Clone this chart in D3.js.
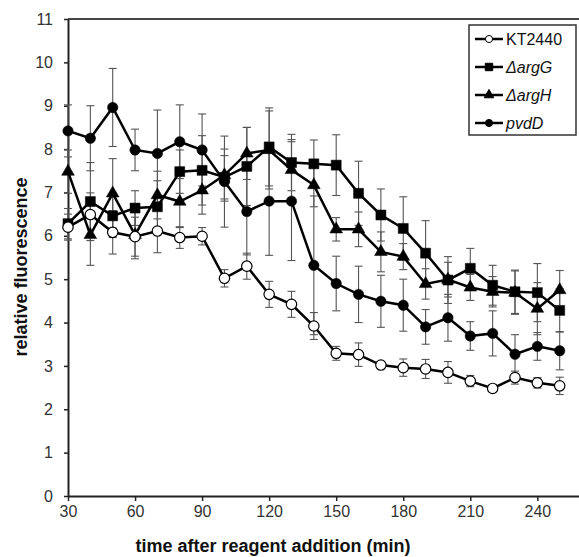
<!DOCTYPE html>
<html>
<head>
<meta charset="utf-8">
<script src="https://cdn.jsdelivr.net/npm/d3@7"></script>
<style>
  body { margin: 0; background: #fff; }
  svg { display: block; font-family: Arial, "Liberation Sans", sans-serif; }
</style>
</head>
<body>
<div id="chart"></div>
<script>
// time points (min)
const times = [30, 40, 50, 60, 70, 80, 90, 100, 110, 120, 130, 140, 150, 160, 170, 180, 190, 200, 210, 220, 230, 240, 250];

const kt2440 = [6.2, 6.49, 6.08, 5.98, 6.11, 5.96, 5.99, 5.02, 5.3, 4.65, 4.42, 3.92, 3.29, 3.26, 3.02, 2.96, 2.93, 2.85, 2.65, 2.48, 2.73, 2.61, 2.54];
const kt2440Err = [0.3, 0.5, 0.5, 0.45, 0.5, 0.25, 0.2, 0.2, 0.3, 0.3, 0.3, 0.31, 0.16, 0.27, 0.08, 0.2, 0.22, 0.25, 0.13, 0.05, 0.15, 0.12, 0.2];

const argG = [6.28, 6.79, 6.46, 6.64, 6.67, 7.48, 7.51, 7.35, 7.6, 8.05, 7.69, 7.66, 7.63, 6.98, 6.48, 6.17, 5.6, 4.98, 5.25, 4.86, 4.71, 4.69, 4.28];
const argGErr = [0.35, 0.9, 0.5, 0.4, 0.6, 0.5, 0.8, 0.5, 0.9, 0.9, 0.65, 0.55, 0.7, 0.74, 0.6, 0.73, 0.75, 0.54, 0.46, 0.46, 0.5, 0.67, 0.5];

const argH = [7.48, 6.02, 6.98, 6.02, 6.94, 6.79, 7.05, 7.4, 7.9, 7.98, 7.52, 7.17, 6.15, 6.15, 5.63, 5.52, 4.89, 4.99, 4.81, 4.71, 4.69, 4.32, 4.75];
const argHErr = [0.5, 0.7, 0.8, 0.55, 0.55, 0.6, 0.55, 0.6, 0.6, 0.9, 0.7, 0.5, 0.27, 0.4, 0.46, 0.3, 0.35, 0.4, 0.3, 0.35, 0.5, 0.6, 0.45];

const pvdD = [8.42, 8.25, 8.96, 7.98, 7.9, 8.17, 7.98, 7.25, 6.56, 6.8, 6.8, 5.32, 4.9, 4.65, 4.49, 4.4, 3.9, 4.11, 3.69, 3.75, 3.27, 3.45, 3.35];
const pvdDErr = [0.6, 0.75, 0.9, 0.48, 1.0, 0.85, 0.83, 1.05, 1.0, 1.25, 1.37, 1.6, 0.63, 0.65, 0.6, 0.6, 0.4, 0.54, 0.33, 0.52, 0.45, 0.32, 0.44];

const xTicks = [30, 60, 90, 120, 150, 180, 210, 240];
const yTicks = [0, 1, 2, 3, 4, 5, 6, 7, 8, 9, 10, 11];

const seriesNames = ['KT2440', 'ΔargG', 'ΔargH', 'pvdD'];

(function() {
    'use strict';

    const width = 579;
    const height = 557;
    const margin = { left: 68, top: 19, bottom: 61 };

    const series = [
        { name: seriesNames[3], values: pvdD, err: pvdDErr, shape: 'circle', fill: '#000' },
        { name: seriesNames[2], values: argH, err: argHErr, shape: 'triangle', fill: '#000' },
        { name: seriesNames[1], values: argG, err: argGErr, shape: 'square', fill: '#000' },
        { name: seriesNames[0], values: kt2440, err: kt2440Err, shape: 'circle', fill: '#fff' }
    ];

    const x = d3.scaleLinear().domain([30, 260]).range([margin.left, margin.left + 230 * 2.235]);
    const y = d3.scaleLinear().domain([0, 11]).range([height - margin.bottom, margin.top]);

    const svg = d3.select('#chart').append('svg')
        .attr('width', width)
        .attr('height', height);

    // top frame line
    svg.append('line')
        .attr('x1', x(30)).attr('x2', width)
        .attr('y1', y(11)).attr('y2', y(11))
        .attr('stroke', '#444').attr('stroke-width', 2);

    // axes
    const xAxis = svg.append('g')
        .attr('transform', `translate(0,${y(0)})`)
        .call(d3.axisBottom(x).tickValues(xTicks).tickSize(5).tickPadding(5).tickSizeOuter(0));
    const yAxis = svg.append('g')
        .attr('transform', `translate(${x(30)},0)`)
        .call(d3.axisLeft(y).tickValues(yTicks).tickSize(4).tickPadding(11).tickSizeOuter(0));

    [xAxis, yAxis].forEach(ax => {
        ax.select('.domain').attr('stroke', '#222').attr('stroke-width', 2);
        ax.selectAll('.tick line').attr('stroke', '#222').attr('stroke-width', 1.5);
        ax.selectAll('.tick text')
            .attr('fill', '#333')
            .style('font-size', '16px')
            .style('font-family', 'Arial, "Liberation Sans", sans-serif');
    });

    // axis titles
    svg.append('text')
        .attr('x', 273).attr('y', 552)
        .attr('text-anchor', 'middle')
        .style('font-size', '18px').style('font-weight', 'bold')
        .attr('fill', '#111')
        .text('time after reagent addition (min)');

    svg.append('text')
        .attr('transform', 'translate(27,267) rotate(-90)')
        .attr('text-anchor', 'middle')
        .style('font-size', '18px').style('font-weight', 'bold')
        .attr('fill', '#111')
        .text('relative fluorescence');

    const plot = svg.append('g');

    // error bars
    series.forEach(s => {
        const g = plot.append('g').attr('class', 'err');
        times.forEach((t, i) => {
            const cx = x(t);
            const lo = y(s.values[i] - s.err[i]);
            const hi = y(s.values[i] + s.err[i]);
            g.append('line').attr('x1', cx).attr('x2', cx).attr('y1', lo).attr('y2', hi);
            g.append('line').attr('x1', cx - 4).attr('x2', cx + 4).attr('y1', lo).attr('y2', lo);
            g.append('line').attr('x1', cx - 4).attr('x2', cx + 4).attr('y1', hi).attr('y2', hi);
        });
        g.selectAll('line').attr('stroke', '#555').attr('stroke-width', 1.1);
    });

    const line = d3.line()
        .x((d, i) => x(times[i]))
        .y(d => y(d));

    const symbolPath = {
        circle: d3.symbol().type(d3.symbolCircle).size(85)(),
        square: d3.symbol().type(d3.symbolSquare).size(100)(),
        triangle: d3.symbol().type(d3.symbolTriangle).size(70)()
    };

    series.forEach(s => {
        plot.append('path')
            .datum(s.values)
            .attr('d', line)
            .attr('fill', 'none')
            .attr('stroke', '#000')
            .attr('stroke-width', 2.5);

        plot.append('g').selectAll('path').data(s.values).enter().append('path')
            .attr('transform', (d, i) => `translate(${x(times[i])},${y(d)})`)
            .attr('d', symbolPath[s.shape])
            .attr('fill', s.fill)
            .attr('stroke', '#000')
            .attr('stroke-width', s.fill === '#fff' ? 1.2 : 0.5);
    });

    // legend
    const legend = svg.append('g').attr('transform', 'translate(469,25)');
    legend.append('rect')
        .attr('width', 107).attr('height', 110)
        .attr('fill', '#fff').attr('stroke', '#333').attr('stroke-width', 1.5);

    const legendItems = [series[3], series[2], series[1], series[0]];
    const legendSize = { circle: 40, square: 55, triangle: 40 };
    legendItems.forEach((s, i) => {
        const row = legend.append('g').attr('transform', `translate(0,${14 + i * 28})`);
        row.append('line')
            .attr('x1', 6).attr('x2', 34).attr('y1', 0).attr('y2', 0)
            .attr('stroke', '#000').attr('stroke-width', 2.5);
        row.append('path')
            .attr('transform', 'translate(20,0)')
            .attr('d', d3.symbol().type(s.shape === 'circle' ? d3.symbolCircle : s.shape === 'square' ? d3.symbolSquare : d3.symbolTriangle).size(legendSize[s.shape])())
            .attr('fill', s.fill).attr('stroke', '#000').attr('stroke-width', 1);
        row.append('text')
            .attr('x', 37).attr('y', 6)
            .style('font-size', '16px')
            .style('font-style', i === 0 ? 'normal' : 'italic')
            .attr('fill', '#111')
            .text(s.name);
    });
}());
</script>
</body>
</html>
